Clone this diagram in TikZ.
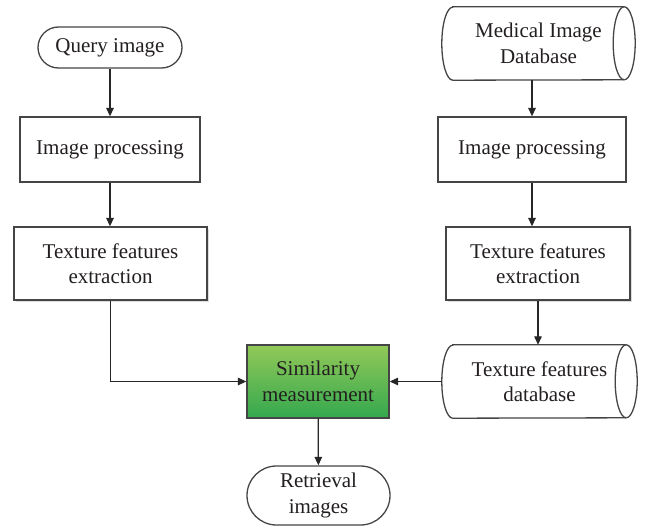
\documentclass[tikz,border=0pt]{standalone}
\usepackage{fontspec}
\setmainfont{Liberation Serif}
\usetikzlibrary{arrows.meta,shadows}
\definecolor{txt}{HTML}{231F20}
\definecolor{edge}{HTML}{454545}
\definecolor{gtop}{RGB}{146,201,88}
\definecolor{gbot}{RGB}{52,168,78}
\newcommand\cylshape[2]{%
  \draw[cylline] ([xshift=11pt]#1.north west) -- ([xshift=-11pt]#1.north east)
    arc[start angle=90,end angle=-90,x radius=11pt,y radius=#2]
    -- ([xshift=11pt]#1.south west)
    arc[start angle=270,end angle=90,x radius=11pt,y radius=#2] -- cycle;
  \draw[cylline] ([xshift=-11pt]#1.north east)
    arc[start angle=90,end angle=270,x radius=11pt,y radius=#2];
}
\begin{document}
\begin{tikzpicture}[x=1pt,y=-1pt,
  every node/.style={font=\fontsize{21}{25.5}\selectfont, text=txt, align=center},
  proc/.style={draw=edge, line width=1.3pt, fill=white, inner sep=0pt},
  shad/.style={drop shadow={shadow xshift=1.8pt,shadow yshift=-1.8pt,opacity=0.3,fill=black!45}},
  term/.style={draw=edge, line width=1.3pt, fill=white, inner sep=0pt},
  cylnode/.style={inner sep=0pt},
  cylline/.style={draw=edge, line width=1.3pt, fill=white},
  greenbox/.style={draw=edge, line width=1.3pt, top color=gtop, bottom color=gbot, inner sep=0pt},
  arr/.style={draw=black!85, line width=1.3pt, -{Triangle[length=8.5pt,width=7.5pt]}},
]
\useasboundingbox (0,0) rectangle (655,527);
% left column
\node[term, minimum width=144pt, minimum height=41pt, rounded corners=20.5pt] (q) at (110,47.5) {Query image};
\node[proc, minimum width=180pt, minimum height=65pt] (ipL) at (110,149.5) {Image processing};
\node[proc, shad, minimum width=193pt, minimum height=73pt] (tfeL) at (110.5,263.5) {Texture features\\extraction};
% right column
\node[cylnode, minimum width=193pt, minimum height=73pt] (mid) at (538.5,43.5) {};
\cylshape{mid}{36.5pt}
\node at (mid) {Medical Image\\Database};
\node[proc, minimum width=188pt, minimum height=65pt] (ipR) at (532,149.5) {Image processing};
\node[proc, shad, minimum width=184pt, minimum height=73pt] (tfeR) at (538,263.5) {Texture features\\extraction};
\node[cylnode, minimum width=195pt, minimum height=73pt] (tfd) at (539.5,381.5) {};
\cylshape{tfd}{36.5pt}
\node at (tfd) {Texture features\\database};
% middle
\node[greenbox, minimum width=142pt, minimum height=73pt] (sim) at (318,381.5) {Similarity\\measurement};
\node[term, minimum width=143pt, minimum height=59pt, rounded corners=29.5pt] (ret) at (318.5,495.5) {Retrieval\\images};
% connectors
\draw[arr] (q) -- (ipL);
\draw[arr] (ipL.south) -- (ipL.south |- tfeL.north);
\draw[arr] (tfeL.south) |- (sim.west);
\draw[arr] (ipR.north |- mid.south) -- (ipR.north);
\draw[arr] (ipR.south) -- (ipR.south |- tfeR.north);
\draw[arr] (tfeR.south) -- (tfeR.south |- tfd.north);
\draw[arr] (tfd.west) -- (sim.east);
\draw[arr] (sim) -- (ret);
\end{tikzpicture}
\end{document}
